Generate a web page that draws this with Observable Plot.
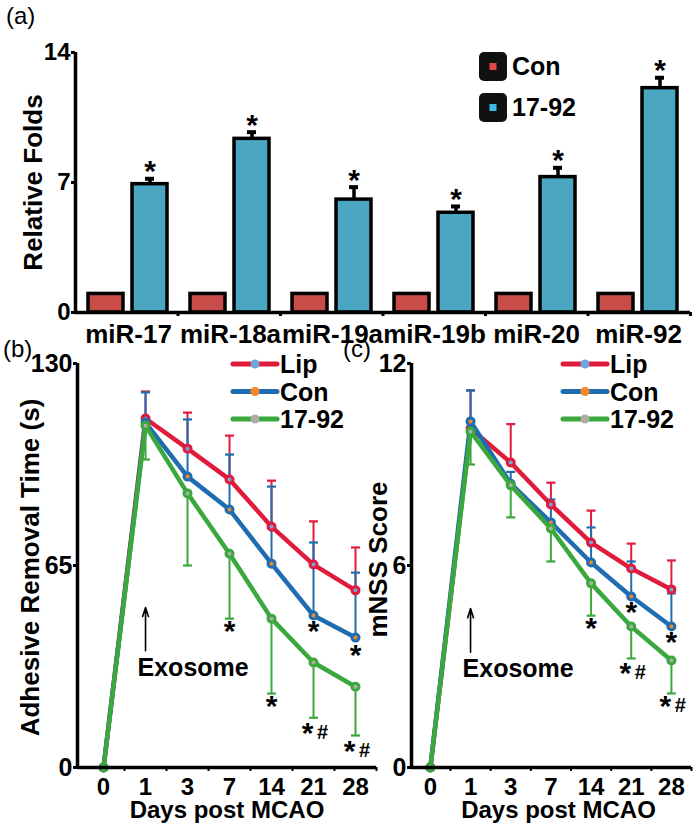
<!DOCTYPE html>
<html><head><meta charset="utf-8">
<script src="https://cdn.jsdelivr.net/npm/d3@7"></script>
<script src="https://cdn.jsdelivr.net/npm/@observablehq/plot@0.6"></script>
<style>
body{margin:0;background:#fff}
#fig{position:relative;width:697px;height:827px;background:#fff;overflow:hidden}
</style>
</head><body><div id="fig"></div>
<script>
// ---------- Panel (a) data ----------
const groups = ["miR-17","miR-18a","miR-19a","miR-19b","miR-20","miR-92"];
const seriesA = ["Con","17-92"];
const conFolds = [1,1,1,1,1,1];
const expFolds = [6.91,9.35,6.08,5.37,7.29,12.08];
const expFoldErr = [0.29,0.36,0.67,0.34,0.5,0.56];
const yTicksA = [0,7,14];

// ---------- Panels (b),(c) data ----------
const days = [0,1,3,7,14,21,28];
const seriesBC = ["Lip","Con","17-92"];
const lipB = [0,112.3,102.6,92.7,77.5,65.3,57];
const lipErrB = [null,8.7,11.6,14.1,14.8,13.9,13.8];
const conB = [0,111,93.6,83,65.6,48.9,41.8];
const conErrB = [null,9.7,18.4,17.7,24.8,23.5,20.9];
const expB = [0,110,88.2,68.8,47.9,33.8,26];
const expErrB = [null,10.9,23.2,20.9,24.1,17.8,15.7];
const yTicksB = [0,65,130];
const starsB = [
  {day:7, y:44.7, mark:"*"}, {day:14, y:20.6, mark:"*"}, {day:21, y:44.7, mark:"*"},
  {day:21, y:11.9, mark:"*#"}, {day:28, y:37, mark:"*"}, {day:28, y:6.1, mark:"*#"}
];
const exosomeB = [{day:1, from:37.6, to:51.5, labelY:32}];

const lipC = [0,10.07,9.06,7.81,6.68,5.91,5.29];
const lipErrC = [null,1.13,1.14,0.65,0.95,0.74,0.86];
const conC = [0,10.28,8.43,7.28,6.09,5.08,4.19];
const conErrC = [null,0.92,0.35,0.68,1.04,1.04,0.98];
const expC = [0,9.98,8.38,7.1,5.47,4.19,3.18];
const expErrC = [null,0.98,0.95,0.98,0.96,0.95,0.98];
const yTicksC = [0,6,12];
const starsC = [
  {day:14, y:4.22, mark:"*"}, {day:21, y:4.69, mark:"*"}, {day:21, y:2.88, mark:"*#"},
  {day:28, y:3.8, mark:"*"}, {day:28, y:1.9, mark:"*#"}
];
const exosomeC = [{day:1, from:3.42, to:4.72, labelY:2.94}];

// ---------- styles ----------
const FONT = "'Liberation Sans', Arial, Helvetica, sans-serif";
const base = `background:transparent;overflow:visible;font-family:${FONT};font-weight:bold;`;
const barColors = ["#c84c48","#4ba7c1"];
const lineColors = {"Lip":"#e01b3c","Con":"#1f6db0","17-92":"#3aa83c"};
const innerColors = {"Lip":"#6fa8dc","Con":"#f5872b","17-92":"#b3aca6"};
const fig = document.getElementById("fig");
function place(el, left, top){ el.style.position="absolute"; el.style.left=left+"px"; el.style.top=top+"px"; fig.append(el); }

// ---------- Panel (a) ----------
const barData = groups.flatMap((g,i)=>[
  {group:g, series:"Con", value:conFolds[i], err:null},
  {group:g, series:"17-92", value:expFolds[i], err:expFoldErr[i]}
]);
const hasErr = d => d.err != null;
const topOf = d => d.value + d.err;
const dimA = {width:697, height:347, marginLeft:75, marginRight:7, marginTop:52, marginBottom:35};

const barsA = Plot.plot({
  ...dimA,
  style: base + "font-size:26px;",
  facet: {data: barData, x: "group"},
  fx: {domain: groups, padding: 0, axis: "bottom", label: null, tickSize: 0, tickPadding: 12},
  x: {domain: seriesA, paddingInner: 0.2, paddingOuter: 0.24, axis: null, label: null},
  y: {domain: [0,14], axis: null, label: null},
  color: {domain: seriesA, range: barColors},
  marks: [
    Plot.ruleX(barData, {filter: hasErr, x:"series", y1:"value", y2: topOf, stroke:"black", strokeWidth:3.5}),
    Plot.tickY(barData, {filter: hasErr, x:"series", y: topOf, stroke:"black", strokeWidth:4, insetLeft:13, insetRight:13}),
    Plot.barY(barData, {x:"series", y:"value", fill:"series", stroke:"black", strokeWidth:3.5}),
    Plot.text(barData, {filter: hasErr, x:"series", y: topOf, text: () => "*", dy:-7, fontSize:30})
  ]
});
place(barsA, 0, 0);

const axesA = Plot.plot({
  ...dimA,
  style: base + "font-size:24px;",
  x: {domain: [0, groups.length], axis: null, label: null},
  y: {domain: [0,14], axis: null, label: null},
  marks: [
    Plot.axisY({ticks: yTicksA, tickSize: 4, tickPadding: 1, label: null, strokeWidth: 3}),
    Plot.axisX({ticks: d3.range(1, groups.length + 1), tickSize: 4, tickFormat: () => "", label: null, strokeWidth: 3}),
    Plot.ruleX([0], {strokeWidth: 3.5}),
    Plot.ruleY([0], {strokeWidth: 3.5}),
    Plot.text(["Relative Folds"], {frameAnchor:"left", rotate:-90, dx:-42, textAnchor:"middle", lineAnchor:"middle", fontSize:26})
  ]
});
place(axesA, 0, 0);

// ---------- Panels (b),(c) ----------
const capSymbol = {draw(ctx, size){ const r = Math.sqrt(size/Math.PI); ctx.moveTo(-r,0); ctx.lineTo(r,0); }};

function rowsFor(values, errs, dir){
  return days.map((d,i)=>({i, day:d, value:values[i], err:errs[i], end: errs[i]==null ? null : values[i] + dir*errs[i]}));
}

function linePanel(cfg){
  const marks = [];
  const idx = d => days.indexOf(d.day);
  cfg.series.forEach(s => {
    marks.push(Plot.ruleX(s.rows, {filter: hasErr, x:"i", y1:"value", y2:"end", stroke: lineColors[s.name], strokeWidth: 2}));
    marks.push(Plot.dot(s.rows, {filter: hasErr, x:"i", y:"end", symbol: capSymbol, r: 4.5, stroke: lineColors[s.name], strokeWidth: 2.2, fill: "none"}));
  });
  cfg.series.forEach(s => {
    marks.push(Plot.line(s.rows, {x:"i", y:"value", stroke: lineColors[s.name], strokeWidth: 4.5, strokeLinejoin:"round"}));
    marks.push(Plot.dot(s.rows, {x:"i", y:"value", r: 3.5, stroke: lineColors[s.name], strokeWidth: 3, fill: innerColors[s.name]}));
  });
  const tickIdx = d3.range(days.length);
  marks.push(
    Plot.ruleX([cfg.xDomain[0]], {strokeWidth: 3.5}),
    Plot.ruleY([0], {strokeWidth: 3.5}),
    Plot.axisY({ticks: cfg.yTicks, tickSize: 4, tickPadding: 1, label: null, strokeWidth: 3, fontSize: 25}),
    Plot.axisX({ticks: tickIdx, tickFormat: i => days[i], tickSize: 0, tickPadding: 10, label: null, fontSize: 24}),
    Plot.axisX({ticks: tickIdx.map(i => i + 0.5), tickSize: 4, tickFormat: () => "", label: null, strokeWidth: 2}),
    Plot.arrow(cfg.exo, {x1: idx, x2: idx, y1:"from", y2:"to", stroke:"black", strokeWidth:1.6, headLength:9, headAngle:35}),
    Plot.text(cfg.exo, {x: idx, y:"labelY", text: () => "Exosome", textAnchor:"start", lineAnchor:"middle", dx:-8, fontSize:25}),
    Plot.text(cfg.stars, {filter: d => d.mark === "*", x: idx, y:"y", text: () => "*", dy:3, fontSize:30}),
    Plot.text(cfg.stars, {filter: d => d.mark === "*#", x: idx, y:"y", text: () => "*", dx:-6, dy:3, fontSize:30}),
    Plot.text(cfg.stars, {filter: d => d.mark === "*#", x: idx, y:"y", text: () => "#", dx:9, dy:2, fontSize:20}),
    Plot.text(["Days post MCAO"], {frameAnchor:"bottom", dy:43, dx: cfg.xLabelDx, lineAnchor:"middle", textAnchor:"middle", fontSize:24}),
    Plot.text([cfg.yLabel], {frameAnchor:"left", rotate:-90, dx: cfg.yLabelDx, dy: cfg.yLabelDy, textAnchor:"middle", lineAnchor:"middle", fontSize:26})
  );
  return Plot.plot({
    width: cfg.width, height: 487, marginLeft: cfg.marginLeft, marginRight: cfg.marginRight, marginTop: 23, marginBottom: 60,
    style: base + "font-size:24px;",
    x: {domain: cfg.xDomain, axis: null, label: null},
    y: {domain: cfg.yDomain, axis: null, label: null},
    marks
  });
}

const panelB = linePanel({
  width: 380, marginLeft: 77, marginRight: 4,
  xDomain: [-0.62, 6.5], yDomain: [0, 130], yTicks: yTicksB,
  series: [
    {name:"Lip", rows: rowsFor(lipB, lipErrB, 1)},
    {name:"Con", rows: rowsFor(conB, conErrB, 1)},
    {name:"17-92", rows: rowsFor(expB, expErrB, -1)}
  ],
  stars: starsB, exo: exosomeB,
  yLabel: "Adhesive Removal Time (s)", yLabelDx: -47, yLabelDy: 2, xLabelDx: 0
});
place(panelB, 0, 340);

const panelC = linePanel({
  width: 357, marginLeft: 71, marginRight: 6,
  xDomain: [-0.47, 6.5], yDomain: [0, 12], yTicks: yTicksC,
  series: [
    {name:"Lip", rows: rowsFor(lipC, lipErrC, 1)},
    {name:"Con", rows: rowsFor(conC, conErrC, 1)},
    {name:"17-92", rows: rowsFor(expC, expErrC, -1)}
  ],
  stars: starsC, exo: exosomeC,
  yLabel: "mNSS Score", yLabelDx: -33, yLabelDy: -6, xLabelDx: 7
});
place(panelC, 340, 340);

// ---------- Legends ----------
function barLegend(){
  const svg = d3.create("svg").attr("width",130).attr("height",90)
    .style("font-family",FONT).style("font-weight","bold").style("font-size","25px");
  seriesA.forEach((s,k)=>{
    const y0 = 7 + k*41;
    svg.append("rect").attr("x",9).attr("y",y0).attr("width",28).attr("height",29).attr("rx",5).attr("fill","#111");
    svg.append("rect").attr("x",19.5).attr("y",y0+11).attr("width",7).attr("height",7).attr("fill", k===0 ? "#e04a46" : "#42b9e2");
    svg.append("text").attr("x",42).attr("y",y0+23).text(s);
  });
  return svg.node();
}
place(barLegend(), 470, 45);

function lineLegend(){
  const svg = d3.create("svg").attr("width",140).attr("height",90)
    .style("font-family",FONT).style("font-weight","bold").style("font-size","25px");
  seriesBC.forEach((s,k)=>{
    const y = 19 + k*27.5;
    svg.append("line").attr("x1",8).attr("x2",52).attr("y1",y).attr("y2",y)
      .attr("stroke",lineColors[s]).attr("stroke-width",5).attr("stroke-linecap","round");
    svg.append("circle").attr("cx",30).attr("cy",y).attr("r",4.5).attr("fill",innerColors[s]);
    svg.append("text").attr("x",55).attr("y",y+9).text(s);
  });
  return svg.node();
}
place(lineLegend(), 225, 345);
place(lineLegend(), 555, 345);

// ---------- Panel letters ----------
const letters = d3.create("svg").attr("width",697).attr("height",827)
  .style("font-family",FONT).style("pointer-events","none");
[["(a)",6,24],["(b)",3,357],["(c)",343,357]].forEach(([t,x,y])=>{
  letters.append("text").attr("x",x).attr("y",y).attr("font-size",24).text(t);
});
place(letters.node(), 0, 0);
</script></body></html>
